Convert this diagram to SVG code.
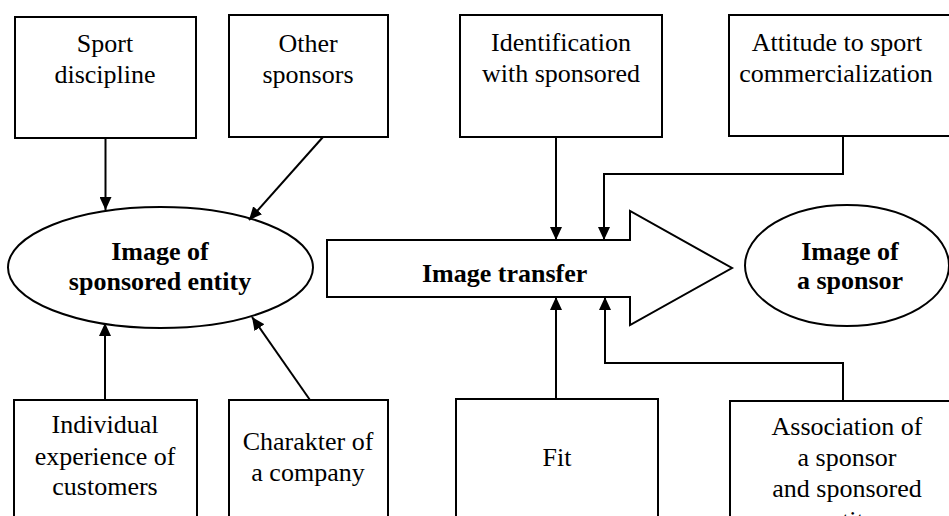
<svg xmlns="http://www.w3.org/2000/svg" width="949" height="516" viewBox="0 0 949 516" font-family="Liberation Serif, DejaVu Serif, serif">
<style>
.box{fill:#fff;stroke:#000;stroke-width:2}
.ell{fill:#fff;stroke:#000;stroke-width:2}
.t{font-family:Liberation Serif, DejaVu Serif, serif;font-size:26px;fill:#000;text-anchor:middle}
.b{font-weight:bold}
.c{fill:none;stroke:#000;stroke-width:2}
</style>
<defs>
<marker id="ah" markerUnits="userSpaceOnUse" markerWidth="14" markerHeight="12" refX="13" refY="6" orient="auto">
<path d="M0,0 L13,6 L0,12 Z" fill="#000"/>
</marker>
</defs>
<rect width="949" height="516" fill="#fff"/>

<g id="sport-discipline">
<rect class="box" x="15" y="17" width="181" height="121"/>
<text class="t" x="105" y="52">Sport</text>
<text class="t" x="105" y="83">discipline</text>
</g>
<g id="other-sponsors">
<rect class="box" x="229" y="15" width="159" height="122"/>
<text class="t" x="308" y="52">Other</text>
<text class="t" x="308" y="83">sponsors</text>
</g>
<g id="identification">
<rect class="box" x="460" y="15" width="202" height="122"/>
<text class="t" x="561" y="51">Identification</text>
<text class="t" x="561" y="82">with sponsored</text>
</g>
<g id="attitude">
<rect class="box" x="729" y="15" width="240" height="121"/>
<text class="t" x="837" y="51">Attitude to sport</text>
<text class="t" x="836" y="82">commercialization</text>
</g>

<g id="image-sponsored-entity">
<ellipse class="ell" cx="160.5" cy="267.5" rx="152.5" ry="60.5"/>
<text class="t b" x="160" y="260">Image of</text>
<text class="t b" x="160" y="290">sponsored entity</text>
</g>
<g id="image-transfer">
<path class="box" d="M327,240 L630,240 L630,211 L732,268 L630,325 L630,297 L327,297 Z"/>
<text class="t b" x="422" y="282" style="text-anchor:start">Image transfer</text>
</g>
<g id="image-sponsor">
<ellipse class="ell" cx="847" cy="265.5" rx="102" ry="60.5"/>
<text class="t b" x="850" y="260">Image of</text>
<text class="t b" x="850" y="289">a sponsor</text>
</g>

<g id="individual-experience">
<rect class="box" x="14" y="400" width="183" height="130"/>
<text class="t" x="105" y="433">Individual</text>
<text class="t" x="105" y="465">experience of</text>
<text class="t" x="105" y="495">customers</text>
</g>
<g id="charakter">
<rect class="box" x="229" y="400" width="159" height="130"/>
<text class="t" x="308" y="450">Charakter of</text>
<text class="t" x="308" y="481">a company</text>
</g>
<g id="fit">
<rect class="box" x="456" y="399" width="202" height="131"/>
<text class="t" x="557" y="466">Fit</text>
</g>
<g id="association">
<rect class="box" x="730" y="401" width="240" height="129"/>
<text class="t" x="847" y="435">Association of</text>
<text class="t" x="847" y="466">a sponsor</text>
<text class="t" x="847" y="497">and sponsored</text>
<text class="t" x="847" y="529">entity</text>
</g>

<g id="connectors">
<path class="c" d="M105.5,138 L105.5,210" marker-end="url(#ah)"/>
<path class="c" d="M323,137 L249,220" marker-end="url(#ah)"/>
<path class="c" d="M105,400 L105,323" marker-end="url(#ah)"/>
<path class="c" d="M310,400 L252,317" marker-end="url(#ah)"/>
<path class="c" d="M556,137 L556,240" marker-end="url(#ah)"/>
<path class="c" d="M843,136 L843,174 L604,174 L604,240" marker-end="url(#ah)"/>
<path class="c" d="M556,399 L556,297" marker-end="url(#ah)"/>
<path class="c" d="M843,401 L843,363 L605,363 L605,297" marker-end="url(#ah)"/>
</g>
</svg>
